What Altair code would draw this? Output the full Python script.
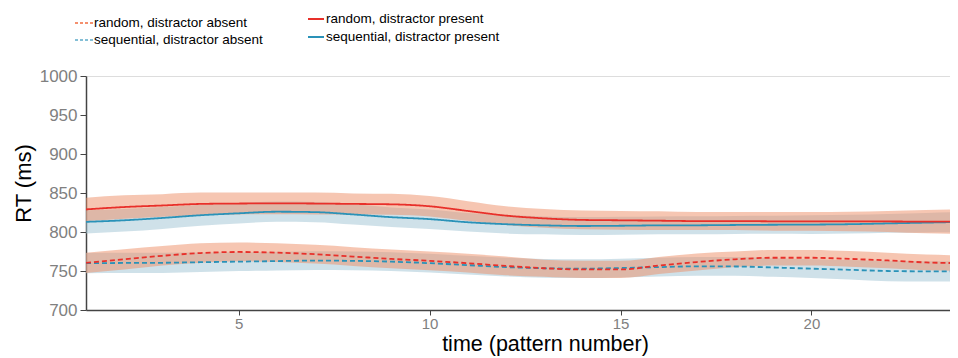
import altair as alt
import pandas as pd

# ---- data ----
t = list(range(1, 25))

rand_present = [829, 832, 834, 836, 836.5, 836.7, 836.5, 836, 835.5, 833, 827, 821,
                817.5, 815.5, 815, 814.5, 814, 814, 813.7, 813.5, 813.5, 813.5, 813.3, 813.3]
seq_present = [813, 815, 818, 821.5, 824, 826, 825.5, 822.5, 819, 816.5, 812.5, 810,
               808.5, 807.7, 808, 808.5, 808.6, 809, 809.3, 809.5, 810, 811, 812, 813]
rand_absent = [760.5, 765, 769.5, 773, 774.4, 773.5, 771.5, 768.5, 765.5, 763, 760, 756.5,
               753.5, 752, 752, 757, 761.5, 765, 767, 767, 765.5, 763.5, 761, 760]
seq_absent = [760, 760.3, 760.5, 761.3, 762, 762.7, 763.3, 763, 762, 760, 757.5, 755,
              753.5, 753, 753.8, 755, 756, 755.8, 754.5, 753, 751.5, 750, 749.6, 749.6]

rand_present_ci = [15, 15, 14.5, 14.5, 14, 14, 14, 13.5, 13.5, 13, 12.5, 12,
                   12, 12, 12, 12, 11.5, 11.5, 12, 12, 12.5, 13.5, 15, 16]
seq_present_ci = [15, 14.5, 14, 13.5, 13, 13, 13, 13, 12.5, 12.5, 12, 12,
                  11.5, 11.5, 11.5, 11.5, 11.5, 11.5, 11.5, 12, 12, 12, 12.5, 13]
rand_absent_ci = [13, 13, 12.5, 12.5, 12, 12, 12, 12, 12, 12, 12, 12,
                  11, 11, 11, 11, 11, 10, 10, 10, 10, 10, 10, 10]
seq_absent_ci = [13, 13, 13, 12.5, 12, 12, 12, 12, 12, 12, 12, 12,
                 12, 12, 12, 12, 12, 12, 12, 12, 12.5, 13, 13, 13]

legend_labels = ["random, distractor absent", "sequential, distractor absent",
                 "random, distractor present", "sequential, distractor present"]

y_ticks = [700, 750, 800, 850, 900, 950, 1000]
x_ticks = [5, 10, 15, 20]

RED = "#e8302a"
BLUE = "#2a92b8"

rows = []
for grp, cond, mean, ci in [
    ("sequential", "absent", seq_absent, seq_absent_ci),
    ("sequential", "present", seq_present, seq_present_ci),
    ("random", "absent", rand_absent, rand_absent_ci),
    ("random", "present", rand_present, rand_present_ci),
]:
    for ti, m, h in zip(t, mean, ci):
        rows.append({"t": ti, "rt": m, "lo": m - h, "hi": m + h,
                     "group": grp, "cond": cond, "key": grp + "-" + cond})
df = pd.DataFrame(rows)

xscale = alt.Scale(domain=[1, 23.63], nice=False, zero=False)
yscale = alt.Scale(domain=[700, 1000], nice=False, zero=False)

x_axis = alt.Axis(values=x_ticks, title="time (pattern number)", format="d",
                  titleX=459, titleY=40, titleBaseline="alphabetic",
                  titleFontSize=21.5, titleFontWeight="normal", titleColor="#000",
                  titleFont="Liberation Sans", labelOverlap=False,
                  labelFontSize=15, labelColor="#808080", labelFont="Liberation Sans",
                  tickSize=5, labelPadding=1, tickColor="#444", domainColor="#444",
                  domainWidth=1.5, grid=False)
y_axis = alt.Axis(values=y_ticks, title="RT (ms)", format="d",
                  titleX=-63, titleY=107, titleAngle=-90, titleAlign="center",
                  titleBaseline="middle", titleFontSize=22, titleFontWeight="normal",
                  titleColor="#000", titleFont="Liberation Sans", labelOverlap=False,
                  labelFontSize=17, labelColor="#808080", labelFont="Liberation Sans",
                  tickSize=6, labelPadding=3, tickColor="#444", domainColor="#444",
                  domainWidth=1.5, grid=False)

x_enc = alt.X("t:Q", scale=xscale, axis=x_axis)

base = alt.Chart(df)

band_seq = base.transform_filter(alt.datum.group == "sequential").mark_area(
    clip=True, color="#9fc3d3", opacity=0.5, interpolate="monotone"
).encode(x=x_enc, y=alt.Y("lo:Q", scale=yscale, axis=y_axis), y2="hi:Q", detail="key:N")

band_rand = base.transform_filter(alt.datum.group == "random").mark_area(
    clip=True, color="#ed8d65", opacity=0.5, interpolate="monotone"
).encode(x=x_enc, y=alt.Y("lo:Q", scale=yscale, axis=y_axis), y2="hi:Q", detail="key:N")

lines = base.mark_line(clip=True, strokeWidth=1.8, interpolate="monotone").encode(
    x=x_enc,
    y=alt.Y("rt:Q", scale=yscale, axis=y_axis),
    color=alt.Color("group:N", scale=alt.Scale(domain=["random", "sequential"], range=[RED, BLUE]),
                    legend=None),
    strokeDash=alt.StrokeDash("cond:N", scale=alt.Scale(domain=["absent", "present"],
                                                        range=[[5, 3], [1, 0]]), legend=None),
    detail="key:N",
)

# ---- manual legend ----
leg_specs = [
    (legend_labels[0], "#f4906e", [3, 2], -11, 7, 8, -53),
    (legend_labels[1], "#84bfd6", [3, 2], -11, 7, 8, -36),
    (legend_labels[2], RED, [1, 0], 222, 238, 240, -57),
    (legend_labels[3], BLUE, [1, 0], 222, 238, 240, -39),
]
legend_layers = []
for lab, col, dash, x1, x2, tx, ty in leg_specs:
    ldf = pd.DataFrame({"label": [lab]})
    legend_layers.append(
        alt.Chart(ldf).mark_rule(color=col, strokeWidth=2, strokeDash=dash).encode(
            x=alt.value(x1), x2=alt.value(x2), y=alt.value(ty))
    )
    legend_layers.append(
        alt.Chart(ldf).mark_text(align="left", baseline="middle", fontSize=13.5,
                                 font="Liberation Sans", color="#000").encode(
            x=alt.value(tx), y=alt.value(ty), text="label:N")
    )

chart = alt.layer(band_seq, band_rand, lines, *legend_layers).properties(
    width=864, height=234,
    autosize=alt.AutoSizeParams(type="none"),
    padding={"left": 78, "top": 68, "right": 0, "bottom": 48},
).configure_view(stroke=None).configure(background="white")

chart.save("out.html", embed_options={"renderer": "svg", "actions": False})
